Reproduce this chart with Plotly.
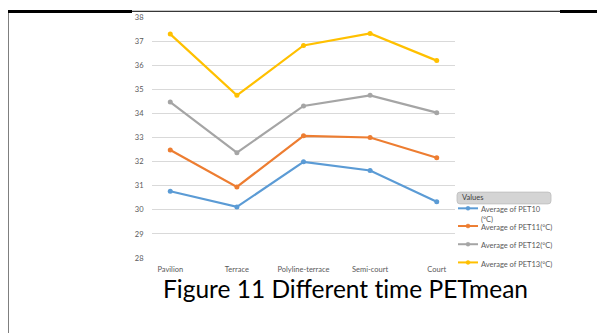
import plotly.graph_objects as go

categories = ["Pavilion", "Terrace", "Polyline-terrace", "Semi-court", "Court"]
pet10 = [30.77, 30.12, 31.99, 31.63, 30.33]
pet11 = [32.48, 30.95, 33.07, 33.00, 32.16]
pet12 = [34.47, 32.37, 34.31, 34.75, 34.03]
pet13 = [37.29, 34.75, 36.82, 37.32, 36.19]
series_names = ["Average of PET10 (°C)", "Average of PET11(°C)",
                "Average of PET12(°C)", "Average of PET13(°C)"]
y_ticks = list(range(28, 39))
colors = ["#5B9BD5", "#ED7D31", "#A5A5A5", "#FFC000"]

OFF = 8  # page body margin
W, H = 605, 333
# plot area in screen pixels: x 152..455, y 13..258
L, T = 152 - OFF, 13 - OFF
PW, PH = 303, 245
R = W - L - PW
B = H - T - PH

def px(x):
    return (x - OFF - L) / PW

def py(y):
    return (T + PH - (y - OFF)) / PH

fig = go.Figure()
for name, vals, c in zip(series_names, [pet10, pet11, pet12, pet13], colors):
    fig.add_trace(go.Scatter(x=categories, y=vals, mode="lines+markers", name=name,
                             line=dict(color=c, width=2.2),
                             marker=dict(color=c, size=5), showlegend=False))

shapes = []
# document frame
shapes.append(dict(type="line", xref="paper", yref="paper", x0=px(7), x1=px(7), y0=py(6), y1=py(345),
                   line=dict(color="black", width=3)))
shapes.append(dict(type="line", xref="paper", yref="paper", x0=px(6), x1=px(132), y0=py(7.5), y1=py(7.5),
                   line=dict(color="black", width=3)))
shapes.append(dict(type="line", xref="paper", yref="paper", x0=px(132), x1=px(560), y0=py(7.2), y1=py(7.2),
                   line=dict(color="black", width=1)))
shapes.append(dict(type="line", xref="paper", yref="paper", x0=px(560), x1=px(620), y0=py(7.5), y1=py(7.5),
                   line=dict(color="black", width=3)))

# legend header box
x0, x1, y0, y1, r = 457, 551, 191, 203, 3
path = (f"M {px(x0+r)},{py(y0)} L {px(x1-r)},{py(y0)} Q {px(x1)},{py(y0)} {px(x1)},{py(y0+r)} "
        f"L {px(x1)},{py(y1-r)} Q {px(x1)},{py(y1)} {px(x1-r)},{py(y1)} "
        f"L {px(x0+r)},{py(y1)} Q {px(x0)},{py(y1)} {px(x0)},{py(y1-r)} "
        f"L {px(x0)},{py(y0+r)} Q {px(x0)},{py(y0)} {px(x0+r)},{py(y0)} Z")
shapes.append(dict(type="path", xref="paper", yref="paper", path=path,
                   fillcolor="#d4d4d4", line=dict(color="#bdbdbd", width=0.8)))

annotations = [dict(xref="paper", yref="paper", x=px(460), y=py(197), text="Values",
                    showarrow=False, xanchor="left", yanchor="middle",
                    font=dict(family="Lato", size=7.5, color="#404040"))]

leg_y = [207.5, 225.5, 244, 262.5]
leg_text = ["Average of PET10<br>(°C)", series_names[1], series_names[2], series_names[3]]
for yy, txt, c in zip(leg_y, leg_text, colors):
    shapes.append(dict(type="line", xref="paper", yref="paper", x0=px(458), x1=px(478),
                       y0=py(yy), y1=py(yy), line=dict(color=c, width=2)))
    shapes.append(dict(type="circle", xref="paper", yref="paper", x0=px(466), x1=px(470),
                       y0=py(yy - 2), y1=py(yy + 2), fillcolor=c, line=dict(color=c, width=0.5)))
    annotations.append(dict(xref="paper", yref="paper", x=px(478.5), y=py(yy - 5),
                            text=txt, showarrow=False, xanchor="left", yanchor="top", align="left",
                            font=dict(family="Lato", size=7.5, color="#595959")))

annotations.append(dict(xref="paper", yref="paper", x=px(345.5), y=py(289),
                        text="Figure 11 Different t\u200cime PETmean", showarrow=False,
                        xanchor="center", yanchor="middle",
                        font=dict(family="Lato", size=24.5, color="black")))

fig.update_layout(
    width=W, height=H,
    margin=dict(l=L, r=R, t=T, b=B, pad=0),
    paper_bgcolor="white", plot_bgcolor="white",
    shapes=shapes, annotations=annotations,
    xaxis=dict(type="category", showgrid=False, showline=False, zeroline=False,
               ticks="outside", ticklen=4, tickcolor="white",
               tickfont=dict(family="Lato", size=7.5, color="#595959")),
    yaxis=dict(range=[28, 38], tickvals=y_ticks, showgrid=True, gridcolor="#d9d9d9",
               gridwidth=1, zeroline=False, showline=False,
               ticks="outside", ticklen=6, tickcolor="white",
               tickfont=dict(family="Lato", size=7.5, color="#595959")),
)
fig.write_html("out.html")
